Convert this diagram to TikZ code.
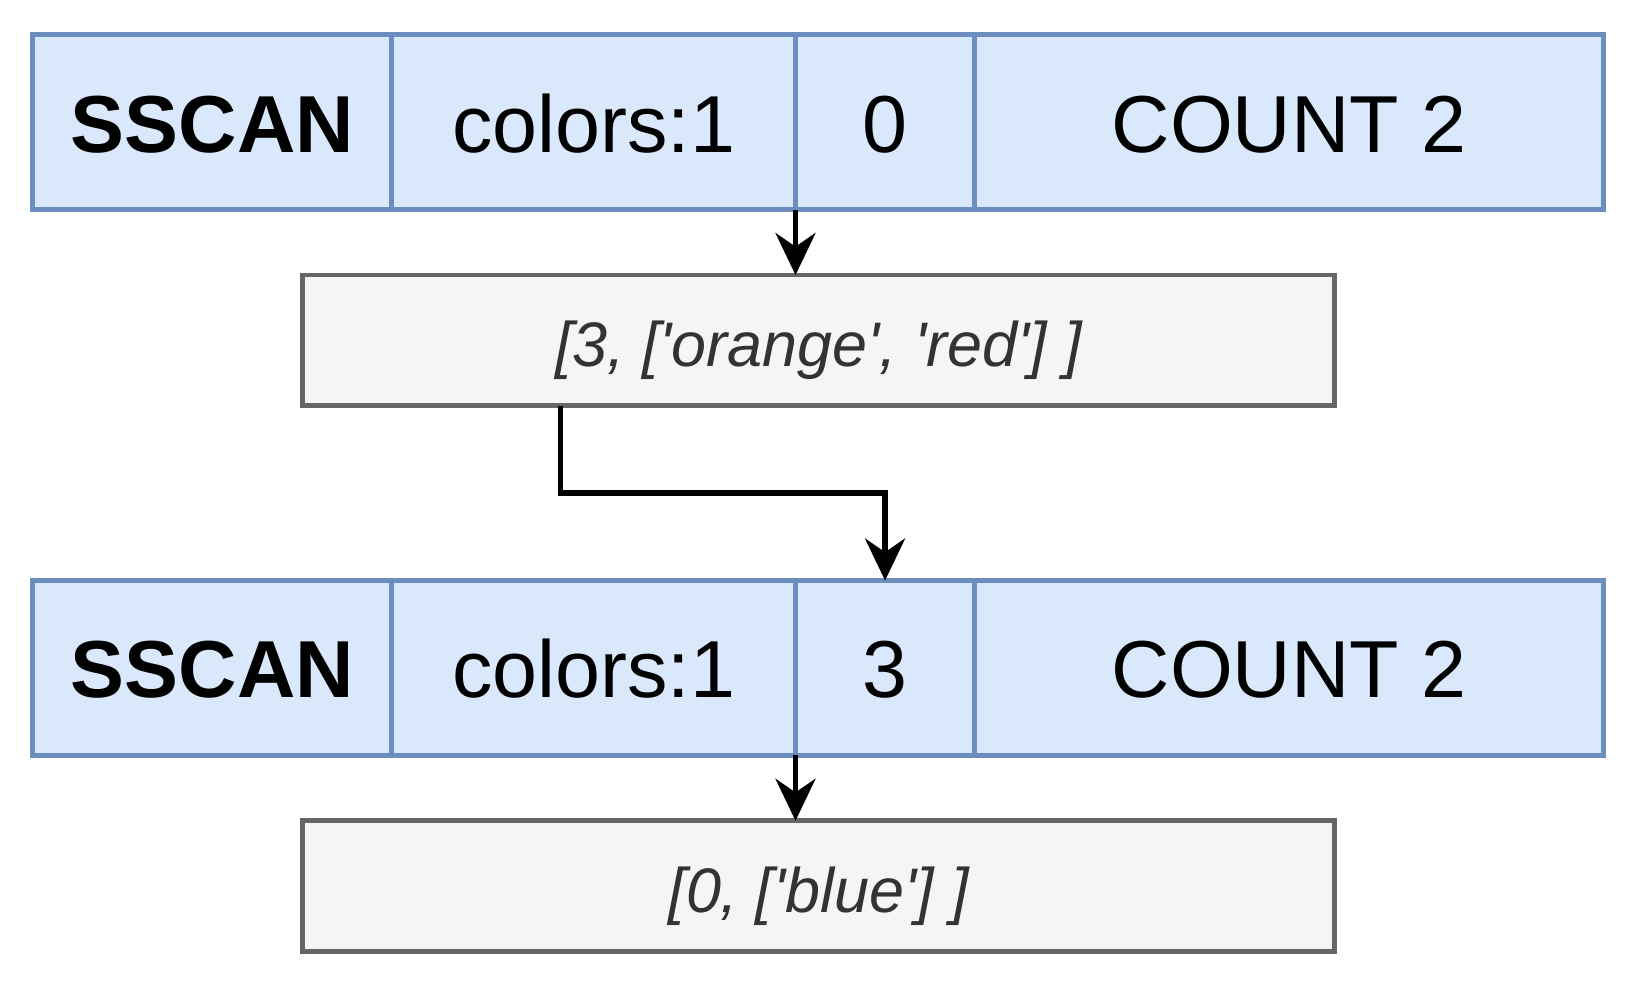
\documentclass[tikz,border=0pt]{standalone}
\usepackage{fontspec}
\setmainfont{Liberation Sans}
\usepackage{xcolor}
\usepackage{tikz}
\usetikzlibrary{shapes,arrows.meta,positioning,calc}
\definecolor{cellfill}{HTML}{DAE8FC}
\definecolor{celldraw}{HTML}{6C8EBF}
\definecolor{resfill}{HTML}{F5F5F5}
\definecolor{resdraw}{HTML}{666666}
\definecolor{restext}{HTML}{333333}
\newcommand{\q}{\textquotesingle}

\begin{document}
\begin{tikzpicture}[
    node distance=0pt,
    cellbox/.style={rectangle, draw=celldraw, fill=cellfill, line width=1.4pt, minimum height=1.749cm, outer sep=0pt, inner sep=0pt, text height=17pt, text depth=0pt, font=\fontsize{23}{28}\selectfont},
    cmdbox/.style={cellbox, minimum width=3.592cm, font=\fontsize{23}{28}\selectfont\bfseries},
    resultbox/.style={rectangle, draw=resdraw, fill=resfill, line width=1.4pt, minimum width=10.325cm, minimum height=1.306cm, outer sep=0pt, text height=15pt, text depth=0pt, text=restext, font=\fontsize{17.9}{21}\selectfont\itshape},
    flow/.style={-{Stealth[length=4.2mm, width=4mm]}, line width=1.5pt}
]
\useasboundingbox (0,0) rectangle (16.52,-9.86);
% first call
\node[cmdbox, anchor=north west] (cmd1) at (0.327,-0.348) {SSCAN};
\node[cellbox, minimum width=4.036cm, right=of cmd1] (key1) {colors:1};
\node[cellbox, minimum width=1.791cm, right=of key1] (cur1) {0};
\node[cellbox, minimum width=6.29cm, right=of cur1] (cnt1) {COUNT 2};
\node[resultbox] (res1) at (8.1865,-3.403) {[3, [\q orange\q, \q red\q] ]};
% second call
\node[cmdbox, anchor=north west] (cmd2) at (0.327,-5.805) {SSCAN};
\node[cellbox, minimum width=4.036cm, right=of cmd2] (key2) {colors:1};
\node[cellbox, minimum width=1.791cm, right=of key2] (cur2) {3};
\node[cellbox, minimum width=6.29cm, right=of cur2] (cnt2) {COUNT 2};
\node[resultbox] (res2) at (8.1865,-8.8605) {[0, [\q blue\q] ]};

\draw[flow] (cur1.south west) -- (cur1.south west |- res1.north);
\coordinate (ret1) at ($(res1.south west)!0.25!(res1.south east)$);
\draw[flow] (ret1) -- ++(0,-0.874) -| (cur2.north);
\draw[flow] (cur2.south west) -- (cur2.south west |- res2.north);
\end{tikzpicture}
\end{document}
